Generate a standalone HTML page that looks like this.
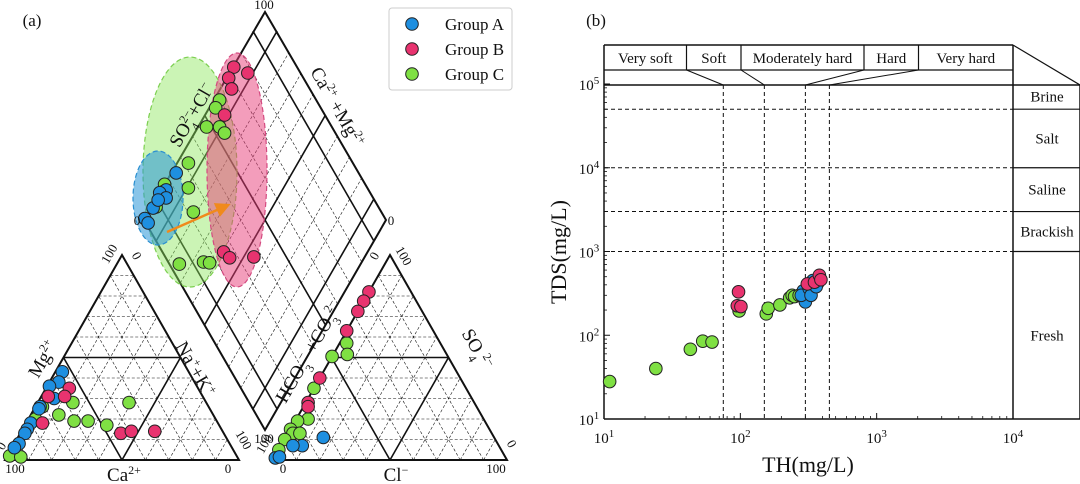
<!DOCTYPE html>
<html><head><meta charset="utf-8"><style>
html,body{margin:0;padding:0;background:#fff;}
svg{display:block;font-family:"Liberation Serif",serif;}
</style></head><body>
<svg id="fig" width="1080" height="484" viewBox="0 0 1080 484" xmlns="http://www.w3.org/2000/svg">
<g id="piper"></g>
<g id="th"></g>
</svg>
<script>
// ---------- Piper data ----------
// cation triangle: Mg %, Na+K %
const catBlueMg=[43,38,36,30,26,25,18,15,13,8,6];
const catBlueNa=[3,4,1,6,2,2,2,2,2,2,1];
const catRedMg=[35,31,31,18,13,14,14];
const catRedNa=[10,3,10,7,43,47,57];
const catGreenMg=[26,20,22,19,19,17,28,28,2,1.5];
const catGreenNa=[3,3,12,20,26,35,39,15,1,6];
// anion triangle: SO4 %, Cl %
const anBlueS=[11,7,7,1,1.5];
const anBlueCl=[16,9,5,0.5,2];
const anRedS=[82,77.5,72.5,63,40,28,26];
const anRedCl=[0,0,0,0,0,1,2];
const anGreenS=[57,51.5,50.5,35,20,19,15,13,10,5,13];
const anGreenCl=[3,6,0,0,5,1,0,2,0,0,5];
// diamond: a (SO4+Cl fraction), b (Ca+Mg fraction)
const diaBlueA=[0.979,0.98,1.0,0.961,0.991,1.0,0.976,0.989];
const diaBlueB=[0.245,0.163,0.13,0.144,0.066,0.007,0.01,0.106];
const diaRedA=[0.993,0.921,0.988,0.95,0.917,0.595,0.556,0.458];
const diaRedB=[0.735,0.779,0.688,0.674,0.583,0.253,0.264,0.366];
const diaGreenA=[0.973,0.971,0.963,0.909,0.874,0.952,1.0,0.893,0.815,0.654,0.627,0.749,0.981,0.988];
const diaGreenB=[0.598,0.563,0.48,0.534,0.54,0.319,0.17,0.26,0.223,0.146,0.169,0.041,0.081,0.146];
// ---------- TH/TDS data ----------
const thGreen=[11,24,43,53,62,98,155,160,195,230,240,250,270];
const tdsGreen=[28,40,68,85,83,195,180,210,230,280,300,290,300];
const thBlue=[300,290,280,320,340,330,370,360];
const tdsBlue=[250,340,300,360,450,300,420,380];
const thRed=[95,97,101,310,350,380,390];
const tdsRed=[225,330,220,410,430,520,460];
const hardBounds=[75,150,300,450];
const tdsBounds=[1000,3000,10000,50000];
const hardLabels=["Very soft","Soft","Moderately hard","Hard","Very hard"];
const tdsLabels=["Brine","Salt","Saline","Brackish","Fresh"];
const xTickExp=[1,2,3,4];
const yTickExp=[1,2,3,4,5];

const NS="http://www.w3.org/2000/svg";
const COL={blue:"#1e8fe0",red:"#e8336f",green:"#7fe043"};
function mk(parent,tag,attrs,text){const e=document.createElementNS(NS,tag);for(const k in attrs)e.setAttribute(k,attrs[k]);if(text!==undefined)e.textContent=text;parent.appendChild(e);return e;}
function line(p,x1,y1,x2,y2,w,dash,name){const e=mk(p,"line",{x1,y1,x2,y2,stroke:"#111","stroke-width":w});if(dash)e.setAttribute("stroke-dasharray",dash);


return e;}
function dot(p,x,y,c,name){const e=mk(p,"circle",{cx:x,cy:y,r:6.3,fill:c,stroke:"#222","stroke-width":1});


return e;}
function txt(p,x,y,s,size,name,anchor,rot){const e=mk(p,"text",{x,y,"font-size":size,"text-anchor":anchor||"middle",fill:"#111"});e.innerHTML=s;if(rot!==undefined)e.setAttribute("transform",`rotate(${rot} ${x} ${y})`);


return e;}

// ---------- Piper ----------
const P=document.getElementById("piper");
const LT={bl:[5,460],br:[239,460],ap:[122,255]};
const RT={bl:[273,460],br:[507,460],ap:[390,255]};
const DM={b:[265,430],l:[144,220],r:[386,220],t:[265,12]};
function tri(T,u,v){
 return [T.bl[0]+u*(T.br[0]-T.bl[0])+v*(T.ap[0]-T.bl[0]), T.bl[1]+u*(T.br[1]-T.bl[1])+v*(T.ap[1]-T.bl[1])];}
function dia(a,b){return [DM.b[0]+a*(DM.l[0]-DM.b[0])+b*(DM.r[0]-DM.b[0]), DM.b[1]+a*(DM.l[1]-DM.b[1])+b*(DM.r[1]-DM.b[1])];}
function triGrid(T,name){
 for(let i=1;i<10;i++){const t=i/10;const solid=i===5;const w=solid?1.6:0.6;const d=solid?null:"3,2";
  let p1=tri(T,0,t),p2=tri(T,1-t,t);line(P,p1[0],p1[1],p2[0],p2[1],w,d,name+"-grid");
  p1=tri(T,t,0);p2=tri(T,t,1-t);line(P,p1[0],p1[1],p2[0],p2[1],w,d,name+"-grid");
  p1=tri(T,1-t,0);p2=tri(T,0,1-t);line(P,p1[0],p1[1],p2[0],p2[1],w,d,name+"-grid");}
 const e=mk(P,"polygon",{points:[T.bl,T.br,T.ap].map(q=>q.join(",")).join(" "),fill:"none",stroke:"#111","stroke-width":2});
 
 
}
triGrid(LT,"cation-triangle");triGrid(RT,"anion-triangle");
for(let i=1;i<10;i++){const t=i/10;const solid=(i===1||i===5||i===9);const w=solid?1.6:0.6;const d=solid?null:"3,2";
 let p1=dia(t,0),p2=dia(t,1);line(P,p1[0],p1[1],p2[0],p2[1],w,d,"diamond-grid");
 p1=dia(0,t);p2=dia(1,t);line(P,p1[0],p1[1],p2[0],p2[1],w,d,"diamond-grid");}
{const e=mk(P,"polygon",{points:[DM.b,DM.l,DM.t,DM.r].map(q=>q.join(",")).join(" "),fill:"none",stroke:"#111","stroke-width":2});

}
// group ellipses (cx, cy, rx, ry)
const ellGreen=[190,172,47,115],ellBlue=[158,198,25,47],ellRed=[237,170,30,117];
function ell(v,fill,stroke,name){const e=mk(P,"ellipse",{cx:v[0],cy:v[1],rx:v[2],ry:v[3],fill:fill,stroke:stroke,"stroke-width":1.2,"stroke-dasharray":"5,3"});

}
ell(ellGreen,"rgba(140,230,90,0.45)","#7ccf50","group-c-ellipse");
ell(ellBlue,"rgba(40,150,215,0.55)","#2a8fd0","group-a-ellipse");
ell(ellRed,"rgba(232,60,120,0.5)","#d44a80","group-b-ellipse");
{const d=mk(P,"defs",{});const m=mk(d,"marker",{id:"ah",markerWidth:6,markerHeight:6,refX:4,refY:3,orient:"auto"});mk(m,"path",{d:"M0,0 L6,3 L0,6 z",fill:"#f08a1c"});
const a=mk(P,"line",{x1:167,y1:232,x2:226,y2:206,stroke:"#f08a1c","stroke-width":2.5,"marker-end":"url(#ah)"});

}
function plotTri(T,us,vs,c,name){for(let i=0;i<us.length;i++){const p=tri(T,us[i]/100,vs[i]/100);dot(P,p[0],p[1],c,name);}}
plotTri(LT,catGreenNa,catGreenMg,COL.green,"cation-point-group-c");
plotTri(LT,catBlueNa,catBlueMg,COL.blue,"cation-point-group-a");
plotTri(LT,catRedNa,catRedMg,COL.red,"cation-point-group-b");
plotTri(RT,anGreenCl,anGreenS,COL.green,"anion-point-group-c");
plotTri(RT,anBlueCl,anBlueS,COL.blue,"anion-point-group-a");
plotTri(RT,anRedCl,anRedS,COL.red,"anion-point-group-b");
function plotDia(as,bs,c,name){for(let i=0;i<as.length;i++){const p=dia(as[i],bs[i]);dot(P,p[0],p[1],c,name);}}
plotDia(diaGreenA,diaGreenB,COL.green,"diamond-point-group-c");
plotDia(diaBlueA,diaBlueB,COL.blue,"diamond-point-group-a");
plotDia(diaRedA,diaRedB,COL.red,"diamond-point-group-b");
// piper labels
txt(P,32,26,"(a)",17,"panel-a-label");
txt(P,264,9,"100",13,"diamond-top-label");
txt(P,137,225,"0",13,"diamond-left-label");
txt(P,391,225,"0",13,"diamond-right-label");
txt(P,264,443,"100",13,"diamond-bottom-label");
txt(P,197,118,"SO<tspan baseline-shift='super' font-size='12'>2−</tspan><tspan baseline-shift='sub' font-size='12' dx='-13'>4</tspan> +Cl<tspan baseline-shift='super' font-size='12'>−</tspan>",19,"diamond-anion-axis-title","middle",-60);
txt(P,332,110,"Ca<tspan baseline-shift='super' font-size='12'>2+</tspan> +Mg<tspan baseline-shift='super' font-size='12'>2+</tspan>",19,"diamond-cation-axis-title","middle",60);
txt(P,48,362,"Mg<tspan baseline-shift='super' font-size='12'>2+</tspan>",19,"mg-axis-title","middle",-60);
txt(P,190,372,"Na<tspan baseline-shift='super' font-size='12'>+</tspan>+K<tspan baseline-shift='super' font-size='12'>+</tspan>",19,"na-k-axis-title","middle",60);
txt(P,124,481,"Ca<tspan baseline-shift='super' font-size='12'>2+</tspan>",19,"ca-axis-title");
txt(P,314,355,"HCO<tspan baseline-shift='sub' font-size='12'>3</tspan><tspan baseline-shift='super' font-size='12'>−</tspan> +CO<tspan baseline-shift='sub' font-size='12'>3</tspan><tspan baseline-shift='super' font-size='12'>2−</tspan>",19,"hco3-axis-title","middle",-60);
txt(P,472,352,"SO<tspan baseline-shift='sub' font-size='12'>4</tspan><tspan baseline-shift='super' font-size='12'>2−</tspan>",19,"so4-axis-title","middle",60);
txt(P,396,481,"Cl<tspan baseline-shift='super' font-size='12'>−</tspan>",19,"cl-axis-title");
txt(P,15,473,"100",13,"cation-ca-100");txt(P,228,473,"0",13,"cation-ca-0");
txt(P,5,448,"0",13,"cation-mg-0","middle",-60);txt(P,113,256,"100",13,"cation-mg-100","middle",-60);
txt(P,133,258,"0",13,"cation-na-0","middle",60);txt(P,240,442,"100",13,"cation-na-100","middle",60);
txt(P,283,473,"0",13,"anion-cl-0");txt(P,496,473,"100",13,"anion-cl-100");
txt(P,268,446,"100",13,"anion-hco3-100","middle",-60);txt(P,378,258,"0",13,"anion-hco3-0","middle",-60);
txt(P,400,258,"100",13,"anion-so4-100","middle",60);txt(P,508,446,"0",13,"anion-so4-0","middle",60);
// legend
{const lg=mk(P,"g",{});
const r=mk(lg,"rect",{x:389,y:8,width:123,height:82,rx:3,fill:"#fff",stroke:"#ccc","stroke-width":1});

const groups=["Group A","Group B","Group C"],cs=[COL.blue,COL.red,COL.green];
for(let i=0;i<3;i++){dot(lg,412,24+i*25,cs[i],"legend-marker");txt(lg,445,30+i*25,groups[i],17,"legend-entry","start");}}

// ---------- TH vs TDS ----------
const G=document.getElementById("th");
const X0=604,X1=1013,Yb=419,Yt=84;
const xs=v=>X0+(X1-X0)/3*Math.log10(v/10);
const ys=v=>Yb-(Yb-Yt)/4*Math.log10(v/10);
line(G,604,45,1013,45,1.5,null,"header-top");
line(G,604,70,1013,70,1.2,null,"header-divider");
line(G,604,85,1080,85,1.5,null,"plot-top");
line(G,604,45,604,419,1.5,null,"y-axis");
line(G,604,419,1080,419,1.5,null,"x-axis");
line(G,1013,45,1013,419,1.5,null,"class-panel-left");
line(G,1080,85,1080,419,1.5,null,"class-panel-right");
line(G,1013,45,1080,85,1.2,null,"header-diagonal");
const hdrEdges=[604,686.5,741,864,918.5,1013];
for(let i=1;i<5;i++){line(G,hdrEdges[i],45,hdrEdges[i],70,1.2,null,"hardness-box-divider");
 line(G,hdrEdges[i],70,xs(hardBounds[i-1]),85,1,null,"hardness-connector");}
for(let i=0;i<5;i++)txt(G,(hdrEdges[i]+hdrEdges[i+1])/2,63,hardLabels[i],15,"hardness-label-"+i);
hardBounds.forEach(v=>line(G,xs(v),85,xs(v),419,1,"4,3","hardness-boundary"));
tdsBounds.forEach(v=>{line(G,604,ys(v),1013,ys(v),1,"4,3","tds-boundary");line(G,1013,ys(v),1080,ys(v),1.2,null,"tds-class-divider");});
const cb=[100000].concat(tdsBounds.slice().reverse()).concat([10]);
for(let i=0;i<5;i++){const yc=(ys(cb[i])+ys(cb[i+1]))/2;txt(G,1047,yc+5,tdsLabels[i],15,"tds-class-"+tdsLabels[i].toLowerCase());}
xTickExp.forEach(e=>{const x=xs(Math.pow(10,e));line(G,x,419,x,413,1,null,"x-major-tick");
 txt(G,x,443,"10<tspan baseline-shift='super' font-size='11'>"+e+"</tspan>",15,"x-tick-label");
 if(e<4)for(let k=2;k<10;k++){const xm=xs(k*Math.pow(10,e));line(G,xm,419,xm,416,0.8,null,"x-minor-tick");}});
yTickExp.forEach(e=>{const y=ys(Math.pow(10,e));line(G,604,y,610,y,1,null,"y-major-tick");
 txt(G,589,y+6,"10<tspan baseline-shift='super' font-size='11'>"+e+"</tspan>",15,"y-tick-label");
 if(e<5)for(let k=2;k<10;k++){const ym=ys(k*Math.pow(10,e));line(G,604,ym,607,ym,0.8,null,"y-minor-tick");}});
txt(G,808,472,"TH(mg/L)",22,"x-axis-title");
txt(G,566,252,"TDS(mg/L)",22,"y-axis-title","middle",-90);
txt(G,596,26,"(b)",17,"panel-b-label");
function sc(a,b,c,name){for(let i=0;i<a.length;i++)dot(G,xs(a[i]),ys(b[i]),c,name);}
sc(thGreen,tdsGreen,COL.green,"th-point-group-c");
sc(thBlue,tdsBlue,COL.blue,"th-point-group-a");
sc(thRed,tdsRed,COL.red,"th-point-group-b");
</script>
</body></html>
